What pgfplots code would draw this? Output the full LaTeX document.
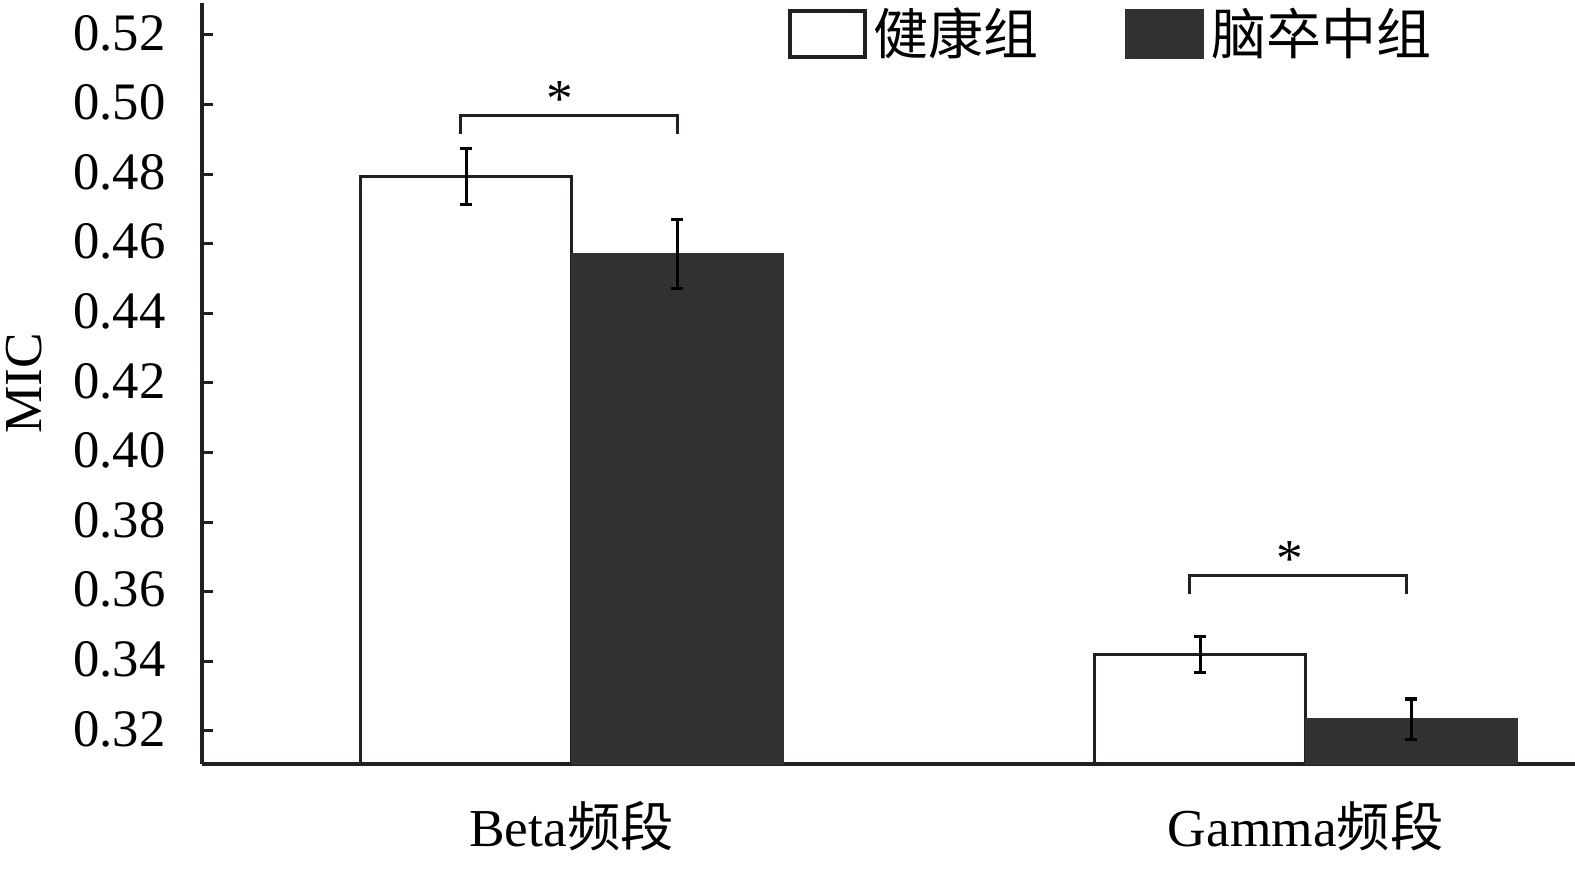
\documentclass[border=0pt]{standalone}
\usepackage{fontspec}
\setmainfont{Liberation Serif}
\newfontfamily\cjk{Noto Sans CJK SC}
\usepackage{pgfplots}
\pgfplotsset{compat=1.18}
\definecolor{darkbar}{HTML}{323031}
\definecolor{ink}{HTML}{231F20}
\begin{document}
\begin{tikzpicture}
\begin{axis}[
  scale only axis,
  width=412pt, height=228.3pt,
  xmin=-0.504, xmax=1.367,
  ymin=0.3105, ymax=0.5292,
  axis lines=left,
  axis line style={-, line width=1.2pt, color=ink},
  ybar=0pt,
  bar width=63.3pt,
  xtick={0,1},
  xticklabels={Beta{\cjk 频段}, Gamma{\cjk 频段}},
  x tick style={draw=none},
  xticklabel style={anchor=base, yshift=-24.8pt, font=\fontsize{16}{19}\selectfont},
  ytick={0.32,0.34,0.36,0.38,0.40,0.42,0.44,0.46,0.48,0.50,0.52},
  /pgf/number format/fixed,
  /pgf/number format/fixed zerofill,
  /pgf/number format/precision=2,
  /pgf/number format/assume math mode=true,
  yticklabel style={font=\fontsize{15.8}{18}\selectfont, xshift=-7.3pt, yshift=0.6pt},
  y tick style={line width=0.9pt, color=ink},
  tick align=inside,
  major tick length=3.3pt,
  ylabel={MIC},
  ylabel style={at={(rel axis cs:-0.1165,0.5)}, anchor=base, font=\fontsize{16}{19}\selectfont},
  clip=false,
  legend style={draw=none, fill=none, at={(rel axis cs:0.4265,1.003)}, anchor=north west,
    inner sep=0pt, legend columns=2,
    font=\fontsize{16.5}{19}\selectfont,
    /tikz/every even column/.append style={column sep=24pt}},
  legend image code/.code={\draw[#1,line width=1.2pt] (0pt,-6.9pt) rectangle (22.5pt,6.9pt);},
  error bars/error bar style={line width=0.95pt, color=black},
  error bars/error mark options={rotate=90, mark size=1.8pt, line width=0.95pt},
]
\addplot[fill=white, draw=ink, line width=0.9pt,
  error bars/.cd, y dir=both, y explicit]
  coordinates {(0,0.4794) +- (0,0.0080) (1,0.3420) +- (0,0.0051)};
\addlegendentry{\cjk 健康组}
\addplot[fill=darkbar, draw=darkbar, line width=0.6pt,
  error bars/.cd, y dir=both, y explicit]
  coordinates {(0,0.4570) +- (0,0.0099) (1,0.3234) +- (0,0.0058)};
\addlegendentry{\cjk 脑卒中组}
\draw[line width=0.9pt, color=ink] (axis cs:-0.1508,0.4916) -- (axis cs:-0.1508,0.4969) -- (axis cs:0.1444,0.4969) -- (axis cs:0.1444,0.4916);
\node[font=\fontsize{16}{19}\selectfont, inner sep=0pt] at (axis cs:-0.016,0.5016) {*};
\draw[line width=0.9pt, color=ink] (axis cs:0.8424,0.3594) -- (axis cs:0.8424,0.3647) -- (axis cs:1.1376,0.3647) -- (axis cs:1.1376,0.3594);
\node[font=\fontsize{16}{19}\selectfont, inner sep=0pt] at (axis cs:0.9786,0.3695) {*};
\end{axis}
\pgfresetboundingbox
\path[use as bounding box] (-60.5pt,-31.8pt) rectangle (412pt,229.2pt);
\end{tikzpicture}
\end{document}
